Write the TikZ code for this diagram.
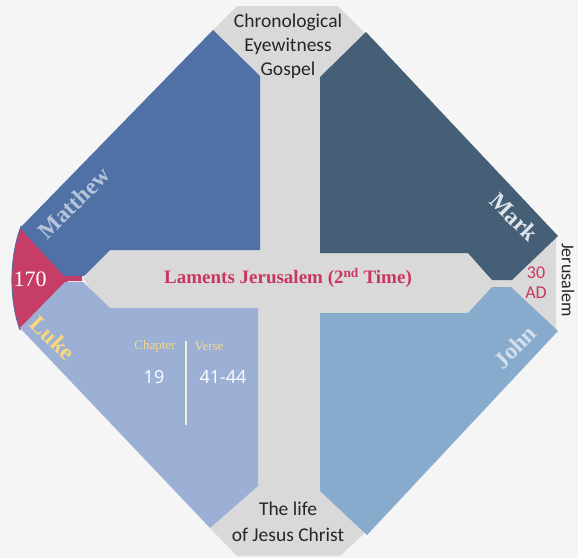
\documentclass[tikz,border=0pt]{standalone}
\usepackage{fontspec}
\setmainfont{Liberation Serif}
\newfontfamily\condsans{Carlito}
\newfontfamily\opensans{Open Sans}
\definecolor{bgc}{HTML}{F5F5F5}
\definecolor{crossgray}{HTML}{D9D9D9}
\definecolor{mattc}{HTML}{4F71A5}
\definecolor{markc}{HTML}{445F76}
\definecolor{lukec}{HTML}{9CB0D5}
\definecolor{johnc}{HTML}{87ABCD}
\definecolor{redc}{HTML}{C63D67}
\definecolor{crimson}{HTML}{C9375F}
\definecolor{matttext}{HTML}{B5C4DA}
\definecolor{marktext}{HTML}{DFE4EA}
\definecolor{luketext}{HTML}{F7D87A}
\definecolor{johntext}{HTML}{D2DEEB}
\definecolor{smallyellow}{HTML}{F0D890}
\definecolor{creamline}{HTML}{F2ECD2}
\tikzset{
  endtext/.style={font=\condsans\fontsize{19.5}{24}\selectfont, text=black!85, align=center, inner sep=0pt},
  gospel/.style={font=\bfseries\fontsize{23.5}{23.5}\selectfont, inner sep=0pt},
  smalllabel/.style={font=\fontsize{13}{13}\selectfont, text=smallyellow, inner sep=0pt},
  numlabel/.style={font=\opensans\fontsize{18}{18}\selectfont, text=white, inner sep=0pt},
}
\begin{document}
\begin{tikzpicture}[x=1pt,y=-1pt]
\useasboundingbox (0,0) rectangle (578,558);
\fill[bgc] (0,0) rectangle (578,558);
% gray cross
\fill[crossgray] (237,6) -- (338,6) -- (366,34) -- (548,228) -- (556,236) -- (556,331)
  -- (548,339) -- (368,530) -- (340,556) -- (237,556) -- (210,528) -- (84,279)
  -- (213,30) -- cycle;
% red wedge
\fill[redc] (21,226) -- (70,276) -- (82,276) -- (82,281) -- (68,281) -- (20,330)
  .. controls (9,300) and (9,258) .. (21,226) -- cycle;
\draw[mattc, line width=0.8pt] (20,330) .. controls (9,300) and (9,258) .. (21,226);
% quadrants
\fill[mattc] (213,30) -- (260,76) -- (260,250) -- (110,250) -- (84,276) -- (64,276) -- (20,228) -- cycle;
\fill[markc] (366,32) -- (558,236) -- (512,280) -- (492,280) -- (468,253) -- (320,253) -- (320,77) -- cycle;
\fill[lukec] (65,282) -- (83,282) -- (110,308) -- (258,308) -- (258,486) -- (210,528) -- (20,328) -- cycle;
\fill[johnc] (492,287) -- (511,287) -- (558,331) -- (367,535) -- (320,491) -- (320,313) -- (468,313) -- cycle;
% texts
\node[endtext] (top) at (288,46) {Chronological\\Eyewitness\\Gospel};
\node[endtext, font=\condsans\fontsize{19.5}{26}\selectfont] (bottom) at (288,522) {The life\\of Jesus Christ};
\node[inner sep=0pt, text=crimson, font=\bfseries\fontsize{19}{19}\selectfont] (lament) at (288,278) {Laments Jerusalem (2\textsuperscript{nd} Time)};
\node[gospel, text=matttext, rotate=45] (matthew) at (74,203) {Matthew};
\node[gospel, text=marktext, rotate=-45] (mark) at (514,217) {Mark};
\node[gospel, text=luketext, rotate=-45] (luke) at (53,338) {Luke};
\node[gospel, text=johntext, rotate=45] (john) at (515,347) {John};
\node[inner sep=0pt, text=white, font=\fontsize{22}{22}\selectfont] (year) at (30,279) {170};
\node[inner sep=0pt, text=crimson, align=center, font=\condsans\fontsize{18}{20}\selectfont] (date) at (536,283) {30\\AD};
\node[inner sep=0pt, text=black!85, rotate=-90, font=\condsans\fontsize{18}{18}\selectfont] (place) at (568,280) {Jerusalem};
\node[smalllabel] (chapter) at (155,346) {Chapter};
\node[smalllabel] (verse) at (209,346) {Verse};
\node[numlabel] (chnum) at (154,377) {19};
\node[numlabel] (vnum) at (223,377) {41-44};
\coordinate (lt) at (186,341);
\coordinate (lb) at (186,425);
\draw[creamline, line width=1.2pt] (lt) -- (lb);
\end{tikzpicture}
\end{document}
